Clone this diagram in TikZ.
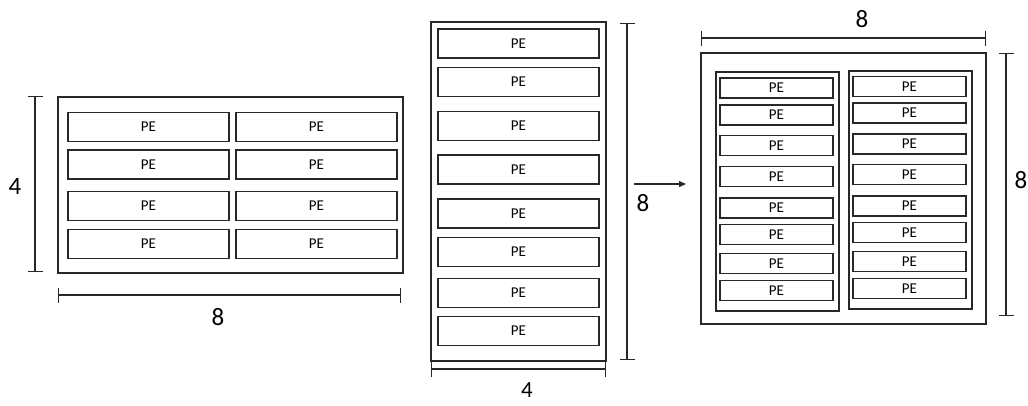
\documentclass[tikz,border=0pt]{standalone}
\usepackage{fontspec}
\setmainfont{Carlito}
\usetikzlibrary{arrows.meta}
\definecolor{linegray}{RGB}{40, 40, 40}

\begin{document}
\begin{tikzpicture}[
        x=1pt, y=-1pt,
        every node/.style={inner sep=0pt, outer sep=0pt},
        frame/.style={draw=linegray, line width=1.3pt},
        pebox/.style={frame, font=\fontsize{15}{17}\selectfont},
        pewide/.style={pebox, minimum width=161pt, minimum height=29pt},
        penarrow/.style={pebox, minimum width=113pt, minimum height=20pt},
        dimline/.style={draw=linegray, line width=1.2pt,
            {Bar[width=15pt]}-{Bar[width=15pt]}},
        dimlabel/.style={font=\fontsize{25}{27}\selectfont}
    ]
    \useasboundingbox (0,0) rectangle (1028,405);

    % left block: 4 x 8
    \node[frame, minimum width=345pt, minimum height=176pt] (leftbox) at (230.5,185) {};
    \foreach \y [count=\i] in {127,164.5,206,244}{
        \node[pewide] (left-a\i) at (148.5,\y) {PE};
        \node[pewide] (left-b\i) at (316.5,\y) {PE};
    }
    \coordinate (leftv-top) at (35,96);
    \coordinate (leftv-bot) at (35,272);
    \draw[dimline] (leftv-top) -- (leftv-bot);
    \node[dimlabel] (leftv-lab) at (15,186) {4};
    \coordinate (lefth-l) at (58,295);
    \coordinate (lefth-r) at (401,295);
    \draw[dimline] (lefth-l) -- (lefth-r);
    \node[dimlabel] (lefth-lab) at (218,317) {8};

    % middle block: 8 x 4
    \node[frame, minimum width=175pt, minimum height=339pt] (midbox) at (518.5,191.5) {};
    \foreach \y [count=\i] in {43.5,82,126,169.5,213.5,252,293,331}{
        \node[pewide] (mid\i) at (518.5,\y) {PE};
    }
    \coordinate (midv-top) at (627,23);
    \coordinate (midv-bot) at (627,360);
    \draw[dimline] (midv-top) -- (midv-bot);
    \node[dimlabel] (midv-lab) at (643,203) {8};
    \coordinate (midh-l) at (431,369);
    \coordinate (midh-r) at (606,369);
    \draw[dimline] (midh-l) -- (midh-r);
    \node[dimlabel, font=\fontsize{23}{25}\selectfont, anchor=south] (midh-lab) at (527,397) {4};

    % arrow
    \coordinate (arrow-start) at (634,184);
    \coordinate (arrow-end) at (686,184);
    \draw[draw=linegray, line width=1.3pt, -{Triangle[length=7pt,width=6pt]}] (arrow-start) -- (arrow-end);

    % right block: 8 x 8, two columns
    \node[frame, minimum width=285pt, minimum height=271pt] (rightbox) at (843.5,188.5) {};
    \node[frame, minimum width=123pt, minimum height=239pt] (colA) at (777.5,191.5) {};
    \node[frame, minimum width=123pt, minimum height=238pt] (colB) at (910.5,190) {};
    \foreach \y [count=\i] in {88,115,145.5,176.5,208,234.5,263.5,290.5}{
        \node[penarrow] (colA-\i) at (776.5,\y) {PE};
    }
    \foreach \y [count=\i] in {86.5,113,144,174.5,206,232.5,261.5,288.5}{
        \node[penarrow] (colB-\i) at (909.5,\y) {PE};
    }
    \coordinate (righth-l) at (701,38);
    \coordinate (righth-r) at (986,38);
    \draw[dimline] (righth-l) -- (righth-r);
    \node[dimlabel] (righth-lab) at (862,19) {8};
    \coordinate (rightv-top) at (1006,53);
    \coordinate (rightv-bot) at (1006,316);
    \draw[dimline] (rightv-top) -- (rightv-bot);
    \node[dimlabel] (rightv-lab) at (1021,180) {8};
\end{tikzpicture}
\end{document}
